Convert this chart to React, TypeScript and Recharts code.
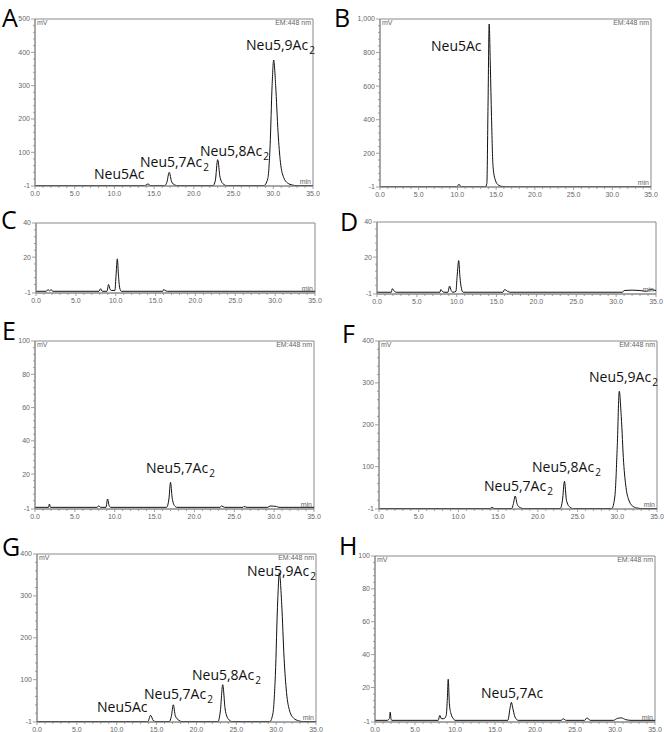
import React from 'react';
import { LineChart, Line, XAxis, YAxis, ReferenceArea } from 'recharts';

// ---------- shared axis values ----------
const xMajorTicks = [0, 5, 10, 15, 20, 25, 30, 35];

// ---------- panel A ----------
const aTime = [0, 13.8, 14.2, 14.6, 16.3, 16.6, 16.9, 17.2, 17.6, 18.0, 22.4, 22.7, 23.0, 23.3, 23.7, 24.2, 28.8, 29.3, 29.6, 29.85, 30.05, 30.3, 30.6, 30.9, 31.3, 31.8, 32.4, 33.0, 35];
const aSignal = [0, 0, 5, 0, 0, 10, 40, 12, 2, 0, 0, 15, 78, 25, 5, 0, 0, 20, 120, 300, 377, 300, 160, 70, 25, 8, 2, 0, 0];
const aYTicks = [-1, 100, 200, 300, 400, 500];

// ---------- panel B ----------
const bTime = [0, 9.9, 10.2, 10.5, 13.6, 13.8, 13.95, 14.1, 14.25, 14.4, 14.6, 14.9, 15.3, 15.8, 16.3, 35];
const bSignal = [0, 0, 15, 0, 0, 20, 480, 970, 720, 420, 120, 40, 10, 2, 0, 0];
const bYTicks = [-1, 200, 400, 600, 800, 1000];

// ---------- panel C ----------
const cTime = [0, 1.3, 1.5, 1.7, 1.9, 2.1, 7.9, 8.1, 8.3, 8.9, 9.1, 9.3, 9.5, 9.9, 10.05, 10.2, 10.35, 10.5, 10.7, 15.9, 16.0, 16.3, 16.5, 35];
const cSignal = [0, 0, 1, 0.3, 1, 0, 0, 1.5, 0, 0, 4, 1, 0.5, 0.5, 10, 19, 9, 2, 0, 0, 1, 0.2, 0, 0];
const cYTicks = [-1, 20, 40];

// ---------- panel D ----------
const dTime = [0, 1.8, 1.9, 2.2, 2.4, 7.9, 8.0, 8.2, 8.4, 8.9, 9.1, 9.3, 9.5, 9.9, 10.05, 10.25, 10.4, 10.6, 10.8, 15.8, 16.0, 16.4, 16.7, 30.8, 31.0, 32.0, 33.0, 33.8, 34.2, 35];
const dSignal = [0, 0, 2, 0.5, 0, 0, 1.5, 0.5, 0, 0, 3.5, 1, 0, 0.5, 9, 18, 9, 2, 0, 0, 1.5, 0.5, 0, 0, 1, 1.2, 1, 0.5, 1.5, 1];
const dYTicks = [-1, 20, 40];

// ---------- panel E ----------
const eTime = [0, 1.7, 1.8, 1.95, 7.8, 8.0, 8.2, 8.9, 9.1, 9.3, 9.5, 16.5, 16.8, 17.0, 17.2, 17.5, 17.8, 23.2, 23.4, 23.8, 26.1, 26.2, 26.6, 29.2, 29.5, 30.3, 30.6, 35];
const eSignal = [0, 0, 2, 0, 0, 1, 0, 0, 5, 1, 0, 0, 5, 15, 6, 1, 0, 0, 0.8, 0, 0, 0.5, 0, 0, 0.8, 0.5, 0, 0];
const eYTicks = [-1, 20, 40, 60, 80, 100];

// ---------- panel F ----------
const fTime = [0, 14.0, 14.2, 14.5, 16.7, 16.9, 17.15, 17.4, 17.8, 18.2, 22.8, 23.1, 23.35, 23.6, 24.0, 24.5, 29.3, 29.7, 30.0, 30.25, 30.5, 30.8, 31.1, 31.5, 32.0, 32.6, 33.2, 35];
const fSignal = [0, 0, 3, 0, 0, 10, 30, 10, 2, 0, 0, 20, 65, 20, 4, 0, 0, 30, 150, 280, 220, 110, 50, 18, 5, 1, 0, 0];
const fYTicks = [-1, 100, 200, 300, 400];

// ---------- panel G ----------
const gTime = [0, 13.9, 14.25, 14.6, 14.9, 16.6, 16.85, 17.1, 17.35, 17.8, 18.2, 22.7, 23.0, 23.3, 23.6, 24.0, 24.5, 29.2, 29.6, 29.9, 30.2, 30.4, 30.7, 31.0, 31.3, 31.7, 32.2, 32.8, 33.4, 35];
const gSignal = [0, 0, 15, 2, 0, 0, 12, 40, 14, 3, 0, 0, 25, 88, 30, 6, 0, 0, 20, 110, 290, 355, 280, 150, 70, 25, 8, 2, 0, 0];
const gYTicks = [-1, 100, 200, 300, 400];

// ---------- panel H ----------
const hTime = [0, 1.5, 1.8, 1.9, 2.0, 2.1, 7.9, 8.1, 8.3, 8.6, 8.9, 9.05, 9.15, 9.3, 9.5, 9.8, 10.0, 16.6, 16.9, 17.05, 17.2, 17.5, 17.9, 23.3, 23.5, 23.9, 26.2, 26.5, 26.9, 29.8, 30.3, 30.8, 31.3, 32.0, 35];
const hSignal = [0, 0, 1, 5, 1, 0, 0, 3, 1, 1, 3, 14, 25, 10, 4, 1, 0, 0, 8, 11, 8, 2, 0, 0, 1, 0, 0, 1.5, 0, 0, 1.2, 1.5, 0.5, 0, 0];
const hYTicks = [-1, 20, 40, 60, 80, 100];

type PeakLbl = { text: string; sub?: string; x: number; y: number };

type PanelDef = {
  letter: string;
  letterX: number;
  letterY: number;
  time: number[];
  signal: number[];
  yTicks: number[];
  box: [number, number, number, number];
  header: boolean;
  labels: PeakLbl[];
};

const panels: PanelDef[] = [
  {
    letter: 'A', letterX: 2, letterY: 9, time: aTime, signal: aSignal, yTicks: aYTicks,
    box: [35, 19, 313, 186], header: true,
    labels: [
      { text: 'Neu5Ac', x: 94, y: 170 },
      { text: 'Neu5,7Ac', sub: '2', x: 140, y: 158 },
      { text: 'Neu5,8Ac', sub: '2', x: 200, y: 147 },
      { text: 'Neu5,9Ac', sub: '2', x: 246, y: 41 },
    ],
  },
  {
    letter: 'B', letterX: 334, letterY: 9, time: bTime, signal: bSignal, yTicks: bYTicks,
    box: [380, 19, 651, 187], header: true,
    labels: [{ text: 'Neu5Ac', x: 431, y: 42 }],
  },
  {
    letter: 'C', letterX: 1, letterY: 211, time: cTime, signal: cSignal, yTicks: cYTicks,
    box: [36, 223, 315, 293], header: false, labels: [],
  },
  {
    letter: 'D', letterX: 340, letterY: 213, time: dTime, signal: dSignal, yTicks: dYTicks,
    box: [377, 222, 656, 294], header: false, labels: [],
  },
  {
    letter: 'E', letterX: 2, letterY: 322, time: eTime, signal: eSignal, yTicks: eYTicks,
    box: [35, 341, 314, 509], header: true,
    labels: [{ text: 'Neu5,7Ac', sub: '2', x: 146, y: 464 }],
  },
  {
    letter: 'F', letterX: 342, letterY: 325, time: fTime, signal: fSignal, yTicks: fYTicks,
    box: [379, 341, 657, 509], header: true,
    labels: [
      { text: 'Neu5,7Ac', sub: '2', x: 484, y: 482 },
      { text: 'Neu5,8Ac', sub: '2', x: 532, y: 463 },
      { text: 'Neu5,9Ac', sub: '2', x: 589, y: 373 },
    ],
  },
  {
    letter: 'G', letterX: 2, letterY: 538, time: gTime, signal: gSignal, yTicks: gYTicks,
    box: [37, 554, 316, 722], header: true,
    labels: [
      { text: 'Neu5Ac', x: 97, y: 703 },
      { text: 'Neu5,7Ac', sub: '2', x: 144, y: 690 },
      { text: 'Neu5,8Ac', sub: '2', x: 192, y: 671 },
      { text: 'Neu5,9Ac', sub: '2', x: 247, y: 567 },
    ],
  },
  {
    letter: 'H', letterX: 339, letterY: 537, time: hTime, signal: hSignal, yTicks: hYTicks,
    box: [375, 556, 655, 722], header: true,
    labels: [{ text: 'Neu5,7Ac', x: 481, y: 689 }],
  },
];

const AXIS = '#8a8a8a';
const TICKTXT = '#666';
const SMALL_FONT = '"Liberation Sans", Arial, sans-serif';
const LABEL_FONT = '"Open Sans", "Noto Sans", sans-serif';

function minorTicksFor(majors: number[]): number[] {
  const step = majors[majors.length - 1] - majors[majors.length - 2];
  const minor = step / 5;
  const top = majors[majors.length - 1];
  const out: number[] = [];
  for (let v = minor; v < top; v += minor) {
    const r = Math.round(v * 1000) / 1000;
    if (!majors.includes(r)) out.push(r);
  }
  return out;
}
const xMinorTicks: number[] = [];
for (let v = 1; v < 35; v++) if (v % 5 !== 0) xMinorTicks.push(v);

const YTick = (props: any) => {
  const { x, y, payload, majors } = props;
  const v = payload.value;
  const major = majors.includes(v);
  const len = major ? 4 : 2;
  return (
    <g>
      <line x1={x - len} x2={x} y1={y} y2={y} stroke={AXIS} strokeWidth={0.8} />
      {major && (
        <text x={x - 5} y={y} dy="0.35em" textAnchor="end" fontSize={7} fill={TICKTXT} fontFamily={SMALL_FONT}>
          {v.toLocaleString('en-US')}
        </text>
      )}
    </g>
  );
};

const XTick = (props: any) => {
  const { x, y, payload } = props;
  const v = payload.value;
  const major = xMajorTicks.includes(v);
  const len = major ? 3 : 2;
  return (
    <g>
      <line x1={x} x2={x} y1={y} y2={y + len} stroke={AXIS} strokeWidth={0.8} />
      {major && (
        <text x={x} y={y + 5} dy="0.71em" textAnchor="middle" fontSize={7} fill={TICKTXT} fontFamily={SMALL_FONT}>
          {v.toFixed(1)}
        </text>
      )}
    </g>
  );
};

const Panel = ({ p }: { p: PanelDef }) => {
  const [pl, pt, pr, pb] = p.box;
  const pw = pr - pl;
  const ph = pb - pt;
  const data = p.time.map((t, i) => ({ t, v: p.signal[i] }));
  const yMax = p.yTicks[p.yTicks.length - 1];
  const yAll = [...p.yTicks, ...minorTicksFor(p.yTicks)].sort((a, b) => a - b);
  const xAll = [...xMajorTicks, ...xMinorTicks].sort((a, b) => a - b);
  return (
    <>
      <div style={{ position: 'absolute', left: pl - 40, top: pt - 6 }}>
        <LineChart width={pw + 48} height={ph + 22} data={data} margin={{ top: 6, right: 8, left: 0, bottom: 0 }}>
          <XAxis
            dataKey="t"
            type="number"
            domain={[0, 35]}
            ticks={xAll}
            interval={0}
            tickSize={0}
            tickMargin={0}
            height={16}
            axisLine={{ stroke: AXIS }}
            tickLine={false}
            tick={(tp: any) => <XTick {...tp} />}
            allowDataOverflow
          />
          <YAxis
            type="number"
            domain={[-1, yMax]}
            ticks={yAll}
            interval={0}
            tickSize={0}
            tickMargin={0}
            width={40}
            axisLine={{ stroke: AXIS }}
            tickLine={false}
            tick={(tp: any) => <YTick {...tp} majors={p.yTicks} />}
            allowDataOverflow
          />
          <ReferenceArea x1={0} x2={35} y1={-1} y2={yMax} fill="none" stroke={AXIS} strokeWidth={1} fillOpacity={0} />
          <Line
            type="monotone"
            dataKey="v"
            stroke="#111"
            strokeWidth={1}
            dot={false}
            isAnimationActive={false}
          />
        </LineChart>
      </div>
      {p.header && (
        <>
          <div style={{ position: 'absolute', left: pl + 2, top: pt, fontSize: 7, fontFamily: SMALL_FONT, color: TICKTXT, lineHeight: 1 }}>mV</div>
          <div style={{ position: 'absolute', right: 664 - pr + 2, top: pt, fontSize: 7, fontFamily: SMALL_FONT, color: TICKTXT, lineHeight: 1, whiteSpace: 'nowrap' }}>EM:448 nm</div>
        </>
      )}
      <div style={{ position: 'absolute', right: 664 - pr + 2, top: pb - 8, fontSize: 7, fontFamily: SMALL_FONT, color: TICKTXT, lineHeight: 1 }}>min</div>
      <div style={{ position: 'absolute', left: p.letterX, top: p.letterY - 4, fontSize: 25, fontFamily: LABEL_FONT, color: '#000', lineHeight: 1 }}>{p.letter}</div>
      {p.labels.map((l, i) => (
        <div key={i} style={{ position: 'absolute', left: l.x, top: l.y - 3, fontSize: 14, fontFamily: LABEL_FONT, color: '#111', lineHeight: 1, whiteSpace: 'nowrap' }}>
          {l.text}
          {l.sub && <span style={{ fontSize: 10, position: 'relative', top: 4, marginLeft: 1 }}>{l.sub}</span>}
        </div>
      ))}
    </>
  );
}

export default function App() {
  return (
    <div style={{ position: 'absolute', left: 0, top: 0, width: 664, height: 732, overflow: 'hidden', background: '#fff' }}>
      {panels.map((p) => (
        <Panel key={p.letter} p={p} />
      ))}
    </div>
  );
}
